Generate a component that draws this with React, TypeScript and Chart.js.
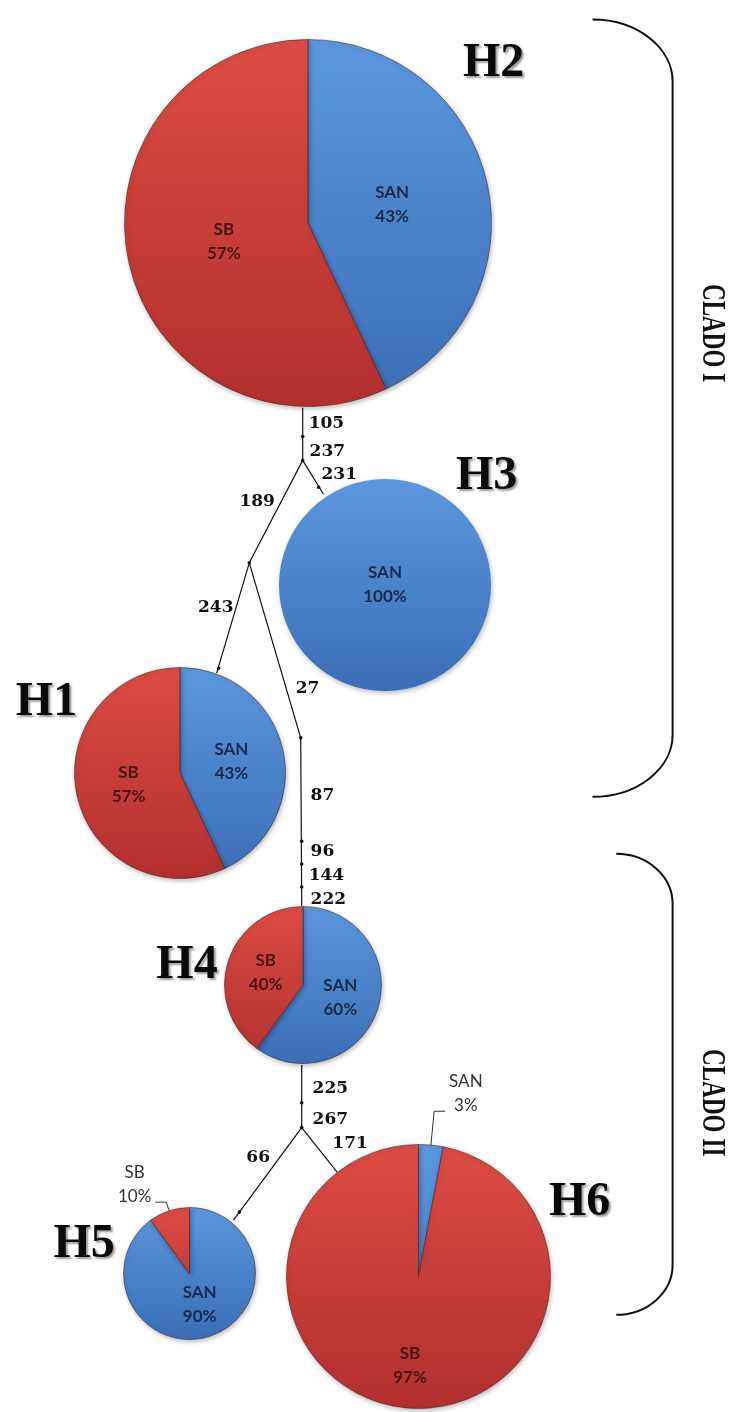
import React, { useEffect, useRef } from 'react';
import { Chart, registerables } from 'chart.js';
Chart.register(...registerables);

const PAGE_W = 732;
const PAGE_H = 1412;

// ---------------- data ----------------
const haplotypes = ['H1', 'H2', 'H3', 'H4', 'H5', 'H6'];
const regions = ['SAN', 'SB'];
const sanShare = [43, 43, 100, 60, 90, 3];
const sbShare = [57, 57, 0, 40, 10, 97];
const mutationSites = ['105', '237', '231', '189', '243', '27', '87', '96', '144', '222', '225', '267', '171', '66'];
const cladeNames = ['CLADO I', 'CLADO II'];

// ---------------- layout (page units) ----------------
const pieCenters = [[178, 773], [307, 220], [385, 584], [302, 987], [188, 1277], [419, 1280]];
const pieRadii = [107, 186, 107, 80, 67, 134];
const calloutLen = [0, 0, 0, 0, 9, 34];
const labelRadiusFrac = [0.5, 0.47, 0, 0.5, 0.5, 0.68];
const nameAnchors = [[43, 715], [495, 72], [488, 488], [185, 980], [81, 1260], [582, 1218]];
const edgeLayout = [
  [[302, 406], [302, 459]],
  [[302, 459], [323, 493]],
  [[302, 459], [248, 562]],
  [[248, 562], [215, 673]],
  [[248, 562], [300, 738]],
  [[300, 738], [301, 907]],
  [[301, 1067], [301, 1130]],
  [[301, 1130], [232, 1223]],
  [[301, 1130], [337, 1175]],
];
const dotLayout = [[302, 435], [302, 459], [318, 486], [248, 562], [217, 668], [300, 738], [301, 842], [301, 865], [301, 888], [301, 1105], [301, 1130], [238, 1215]];
const siteAnchors = [
  [308, 426, 'left'], [309, 455, 'left'], [321, 478, 'left'], [238, 505, 'left'], [232, 611, 'right'],
  [295, 693, 'left'], [310, 801, 'left'], [310, 857, 'left'], [308, 881, 'left'], [310, 905, 'left'],
  [312, 1095, 'left'], [312, 1126, 'left'], [332, 1151, 'left'], [245, 1165, 'left'],
];
const bracketLayout = [
  { x0: 595, x1: 676, top: 16, bottom: 797, ry: 62 },
  { x0: 619, x1: 676, top: 855, bottom: 1318, ry: 50 },
];
const cladeAnchors = [[716, 331], [716, 1105]];

const PAD = 80;

const overlayPlugin = {
  id: 'networkText',
  afterDatasetsDraw(chart: any) {
    const { ctx } = chart;
    const sx = chart.scales.x;
    const sy = chart.scales.y;
    const px = (v: number) => sx.getPixelForValue(v);
    const py = (v: number) => sy.getPixelForValue(v);

    // brackets
    ctx.save();
    ctx.strokeStyle = '#111';
    ctx.lineWidth = 2;
    bracketLayout.forEach((b) => {
      const rx = px(b.x1) - px(b.x0);
      ctx.beginPath();
      ctx.ellipse(px(b.x0), py(b.top + b.ry), rx, b.ry, 0, -Math.PI / 2, 0);
      ctx.lineTo(px(b.x1), py(b.bottom - b.ry));
      ctx.ellipse(px(b.x0), py(b.bottom - b.ry), rx, b.ry, 0, 0, Math.PI / 2);
      ctx.stroke();
    });
    ctx.restore();

    // clade labels (rotated)
    cladeNames.forEach((name, i) => {
      ctx.save();
      ctx.translate(px(cladeAnchors[i][0]), py(cladeAnchors[i][1]));
      ctx.rotate(Math.PI / 2);
      ctx.scale(0.68, 1);
      ctx.font = 'bold 34px "Liberation Serif"';
      ctx.fillStyle = '#111';
      ctx.textAlign = 'center';
      ctx.textBaseline = 'middle';
      ctx.fillText(name, 0, 0);
      ctx.restore();
    });

    // mutation sites
    ctx.save();
    ctx.font = 'bold 17px "DejaVu Serif"';
    ctx.fillStyle = '#111';
    ctx.textBaseline = 'alphabetic';
    mutationSites.forEach((s, i) => {
      const a = siteAnchors[i];
      ctx.textAlign = a[2] as CanvasTextAlign;
      ctx.fillText(s, px(a[0] as number), py(a[1] as number));
    });
    ctx.restore();

    // haplotype names
    ctx.save();
    ctx.font = 'bold 48px "Liberation Serif"';
    ctx.fillStyle = '#0a0a0a';
    ctx.textAlign = 'center';
    ctx.textBaseline = 'alphabetic';
    ctx.shadowColor = 'rgba(0,0,0,0.4)';
    ctx.shadowOffsetX = 2;
    ctx.shadowOffsetY = 2;
    ctx.shadowBlur = 2;
    haplotypes.forEach((h, i) => {
      ctx.fillText(h, px(nameAnchors[i][0]), py(nameAnchors[i][1]));
    });
    ctx.restore();
  },
};

const pieDecor = {
  id: 'pieDecor',
  beforeDatasetsDraw(chart: any) {
    const { ctx } = chart;
    ctx.save();
    ctx.shadowColor = 'rgba(0,0,0,0.28)';
    ctx.shadowBlur = 5;
    ctx.shadowOffsetX = 1;
    ctx.shadowOffsetY = 2;
  },
  afterDatasetsDraw(chart: any, _args: any, opts: any) {
    const { ctx } = chart;
    ctx.restore();
    const meta = chart.getDatasetMeta(0);
    const data = chart.data.datasets[0].data as number[];
    const frac = opts.labelFrac as number;
    const callout = opts.callout as number;
    const lineGap = 24;
    meta.data.forEach((arc: any, i: number) => {
      const v = data[i];
      if (!v) return;
      const p = arc.getProps(['x', 'y', 'startAngle', 'endAngle', 'outerRadius'], true);
      const mid = (p.startAngle + p.endAngle) / 2;
      const c = Math.cos(mid);
      const s = Math.sin(mid);
      const lines = [regions[i], v + '%'];
      ctx.save();
      ctx.textAlign = 'center';
      ctx.textBaseline = 'middle';
      if (v >= 15) {
        ctx.font = 'bold 17px Lato';
        ctx.fillStyle = i === 0 ? '#1a2a4c' : '#4a1414';
        const r = v >= 100 ? 0 : p.outerRadius * frac;
        const cx = p.x + c * r;
        const cy = p.y + s * r;
        ctx.fillText(lines[0], cx, cy - lineGap / 2);
        ctx.fillText(lines[1], cx, cy + lineGap / 2);
      } else {
        ctx.font = '17px Lato';
        ctx.fillStyle = '#333';
        const x0 = p.x + c * p.outerRadius;
        const y0 = p.y + s * p.outerRadius;
        const x1 = p.x + c * (p.outerRadius + callout);
        const y1 = p.y + s * (p.outerRadius + callout);
        const sign = c >= 0 ? 1 : -1;
        const x2 = x1 + sign * 11;
        ctx.strokeStyle = '#333';
        ctx.lineWidth = 1;
        ctx.beginPath();
        ctx.moveTo(x0, y0);
        ctx.lineTo(x1, y1);
        ctx.lineTo(x2, y1);
        ctx.stroke();
        const w = Math.max(ctx.measureText(lines[0]).width, ctx.measureText(lines[1]).width);
        const tx = x2 + sign * (4 + w / 2);
        ctx.fillText(lines[1], tx, y1 - 6);
        ctx.fillText(lines[0], tx, y1 - 6 - lineGap);
      }
      ctx.restore();
    });
  },
};

export default function App() {
  const baseRef = useRef<HTMLCanvasElement>(null);
  const pieRefs = useRef<(HTMLCanvasElement | null)[]>([]);

  useEffect(() => {
    const charts: Chart[] = [];
    const base = new Chart(baseRef.current!, {
      type: 'scatter',
      data: {
        datasets: [
          ...edgeLayout.map((e) => ({
            data: e.map(([x, y]) => ({ x, y })),
            showLine: true,
            borderColor: '#111',
            borderWidth: 1.2,
            pointRadius: 0,
          })),
          {
            data: dotLayout.map(([x, y]) => ({ x, y })),
            showLine: false,
            pointRadius: 1.8,
            pointBackgroundColor: '#111',
            pointBorderWidth: 0,
          },
        ],
      } as any,
      options: {
        responsive: false,
        animation: false,
        layout: { padding: 0 },
        scales: {
          x: { type: 'linear', min: 0, max: PAGE_W, display: false },
          y: { type: 'linear', min: 0, max: PAGE_H, reverse: true, display: false },
        },
        plugins: { legend: { display: false }, tooltip: { enabled: false } },
      },
      plugins: [overlayPlugin],
    });
    charts.push(base);

    const sx = base.scales.x;
    const sy = base.scales.y;
    haplotypes.forEach((h, i) => {
      const cv = pieRefs.current[i];
      if (!cv) return;
      const cx = sx.getPixelForValue(pieCenters[i][0]);
      const cy = sy.getPixelForValue(pieCenters[i][1]);
      const r = Math.abs(sx.getPixelForValue(pieRadii[i]) - sx.getPixelForValue(0));
      const size = Math.round(2 * (r + PAD));
      cv.width = size;
      cv.height = size;
      cv.style.width = size + 'px';
      cv.style.height = size + 'px';
      cv.style.left = Math.round(cx - size / 2) + 'px';
      cv.style.top = Math.round(cy - size / 2) + 'px';
      const grad = (c: any) => {
        const chart = c.chart;
        const area = chart.chartArea;
        const red = c.dataIndex === 1;
        if (!area) return red ? '#c93b39' : '#4a84cf';
        const g = chart.ctx.createLinearGradient(0, area.top, 0, area.bottom);
        if (red) {
          g.addColorStop(0, '#dc4c45');
          g.addColorStop(1, '#b22f2e');
        } else {
          g.addColorStop(0, '#5b97de');
          g.addColorStop(1, '#3a6eb6');
        }
        return g;
      };
      charts.push(
        new Chart(cv, {
          type: 'pie',
          data: {
            labels: regions,
            datasets: [
              {
                data: [sanShare[i], sbShare[i]],
                backgroundColor: grad as any,
                borderColor: 'rgba(70,35,45,0.55)',
                borderWidth: (c: any) => (c.raw && c.raw < 100 ? 1 : 0),
              },
            ],
          },
          options: {
            responsive: false,
            animation: false,
            rotation: 0,
            layout: { padding: PAD },
            plugins: {
              legend: { display: false },
              tooltip: { enabled: false },
              pieDecor: { labelFrac: labelRadiusFrac[i], callout: calloutLen[i] },
            } as any,
          },
          plugins: [pieDecor],
        })
      );
    });

    return () => charts.forEach((c) => c.destroy());
  }, []);

  return (
    <div
      style={{
        position: 'absolute',
        left: 0,
        top: 0,
        width: PAGE_W,
        height: PAGE_H,
        overflow: 'hidden',
        background: '#fff',
      }}
    >
      <canvas ref={baseRef} width={PAGE_W} height={PAGE_H} style={{ position: 'absolute', left: 0, top: 0 }} />
      {haplotypes.map((h, i) => (
        <canvas
          key={h}
          ref={(el) => {
            pieRefs.current[i] = el;
          }}
          style={{ position: 'absolute' }}
        />
      ))}
    </div>
  );
}
